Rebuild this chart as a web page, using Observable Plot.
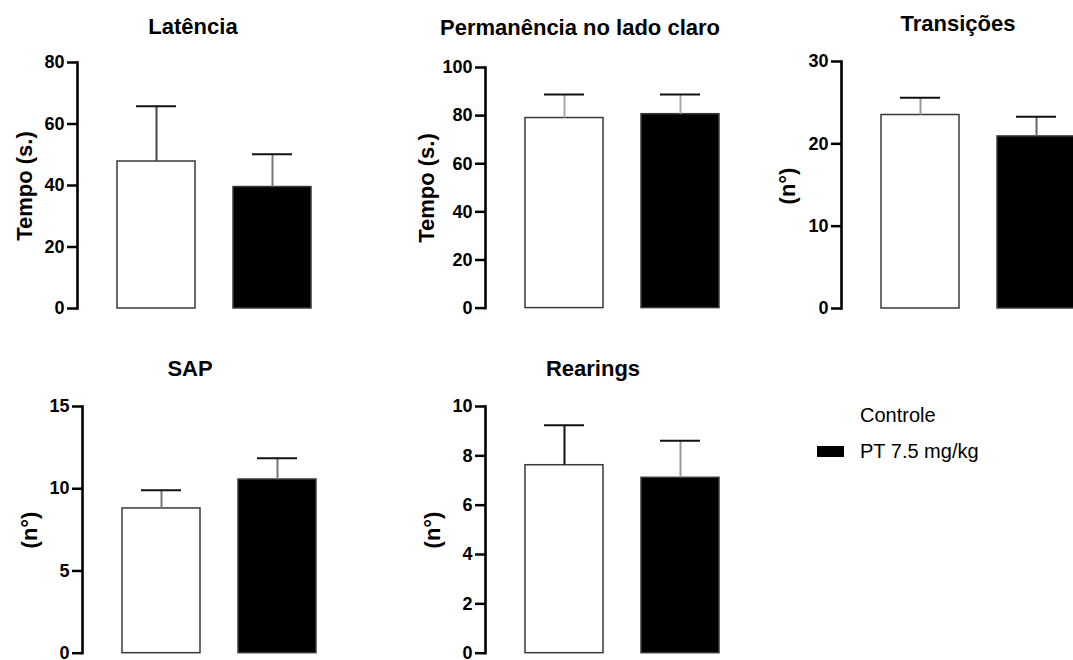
<!DOCTYPE html>
<html><head><meta charset="utf-8">
<script src="https://cdn.jsdelivr.net/npm/d3@7"></script>
<script src="https://cdn.jsdelivr.net/npm/@observablehq/plot@0.6"></script>
<style>
body{margin:0;width:1073px;height:660px;overflow:hidden;position:relative;background:#fff;font-family:"Liberation Sans",Arial,sans-serif;color:#000;}
.abs{position:absolute;white-space:nowrap;}
.title{font-weight:bold;font-size:22px;transform:translate(-50%,-50%);line-height:1;}
.ylab{font-weight:bold;font-size:22px;transform:translate(-50%,-50%) rotate(-90deg);line-height:1;}
.leg{font-size:20px;line-height:1;transform:translateY(-50%);}
.sw{position:absolute;}
</style></head><body>
<script>
// ---- data ----
const groups = ["Controle", "PT 7.5 mg/kg"];
const groupColors = ["white", "black"];

const latenciaMean = [47.8, 39.5];
const latenciaSem  = [18.0, 10.7];
const latenciaTicks = [0, 20, 40, 60, 80];

const permanenciaMean = [79.0, 80.6];
const permanenciaSem  = [9.8, 8.2];
const permanenciaTicks = [0, 20, 40, 60, 80, 100];

const transicoesMean = [23.5, 20.9];
const transicoesSem  = [2.1, 2.4];
const transicoesTicks = [0, 10, 20, 30];

const sapMean = [8.8, 10.56];
const sapSem  = [1.1, 1.3];
const sapTicks = [0, 5, 10, 15];

const rearingsMean = [7.62, 7.11];
const rearingsSem  = [1.62, 1.5];
const rearingsTicks = [0, 2, 4, 6, 8, 10];

// ---- layout ----
const panels = [
  {title:"Latência", ylabel:"Tempo (s.)", mean:latenciaMean, sem:latenciaSem, ticks:latenciaTicks,
   axisX:76.5, yTop:62, y0:308, titleX:193, titleY:27, labX:25, labY:186, stems:["#444","#777"]},
  {title:"Permanência no lado claro", ylabel:"Tempo (s.)", mean:permanenciaMean, sem:permanenciaSem, ticks:permanenciaTicks,
   axisX:484.5, yTop:66.7, y0:307.3, titleX:580, titleY:28, labX:427, labY:188, stems:["#aaa","#aaa"]},
  {title:"Transições", ylabel:"(n°)", mean:transicoesMean, sem:transicoesSem, ticks:transicoesTicks,
   axisX:840.5, yTop:61.3, y0:308.3, titleX:958, titleY:24, labX:788, labY:186, stems:["#999","#666"]},
  {title:"SAP", ylabel:"(n°)", mean:sapMean, sem:sapSem, ticks:sapTicks,
   axisX:82, yTop:406, y0:652.7, titleX:190, titleY:369, labX:30, labY:530, stems:["#777","#777"]},
  {title:"Rearings", ylabel:"(n°)", mean:rearingsMean, sem:rearingsSem, ticks:rearingsTicks,
   axisX:485, yTop:406, y0:652.7, titleX:593, titleY:369, labX:433, labY:530, stems:["#111","#999"]}
];

const ML = 80, MT = 12, MB = 12, W = 330;

function div(cls, text, x, y) {
  const d = document.createElement("div");
  d.className = "abs " + cls;
  d.textContent = text;
  d.style.left = x + "px";
  d.style.top = y + "px";
  document.body.appendChild(d);
  return d;
}

for (const p of panels) {
  const data = groups.map((g, i) => ({group: g, mean: p.mean[i], hi: p.mean[i] + p.sem[i]}));
  const H = (p.y0 - p.yTop) + MT + MB;
  const max = p.ticks[p.ticks.length - 1];
  const chart = Plot.plot({
    width: W, height: H,
    marginLeft: ML, marginTop: MT, marginBottom: MB, marginRight: 0,
    style: {background: "transparent", overflow: "visible", fontFamily: '"Liberation Sans", Arial, sans-serif', color: "#000"},
    x: {domain: groups, range: [ML + 40, ML + 234], paddingInner: 0.33, paddingOuter: 0, axis: null},
    y: {domain: [0, max], axis: null},
    color: {domain: groups, range: groupColors},
    marks: [
      Plot.barY(data, {x: "group", y: "mean", fill: "group", stroke: "#3a3a3a", strokeWidth: 1.5}),
      ...data.map((d, i) => Plot.ruleX([d], {x: "group", y1: "mean", y2: "hi", stroke: p.stems[i], strokeWidth: 2})),
      Plot.tickY(data, {x: "group", y: "hi", stroke: "#111", strokeWidth: 2, insetLeft: 19, insetRight: 19}),
      Plot.frame({anchor: "left", stroke: "#000", strokeWidth: 2.6}),
      Plot.axisY({ticks: p.ticks, tickSize: 10, tickPadding: 3, strokeWidth: 2.5, fontSize: 18, fontWeight: "bold", label: null, tickFormat: d => String(d)})
    ]
  });
  chart.style.position = "absolute";
  chart.style.left = (p.axisX - ML) + "px";
  chart.style.top = (p.yTop - MT) + "px";
  document.body.appendChild(chart);
  div("title", p.title, p.titleX, p.titleY);
  div("ylab", p.ylabel, p.labX, p.labY);
}

// legend
const legendY = [415, 451];
groups.forEach((g, i) => {
  const s = document.createElement("div");
  s.className = "sw";
  s.style.left = "817px"; s.style.top = (legendY[i] - 5.5) + "px";
  s.style.width = "27px"; s.style.height = "11px";
  s.style.background = groupColors[i];
  document.body.appendChild(s);
  div("leg", g, 860, legendY[i]);
});
</script>
</body></html>
